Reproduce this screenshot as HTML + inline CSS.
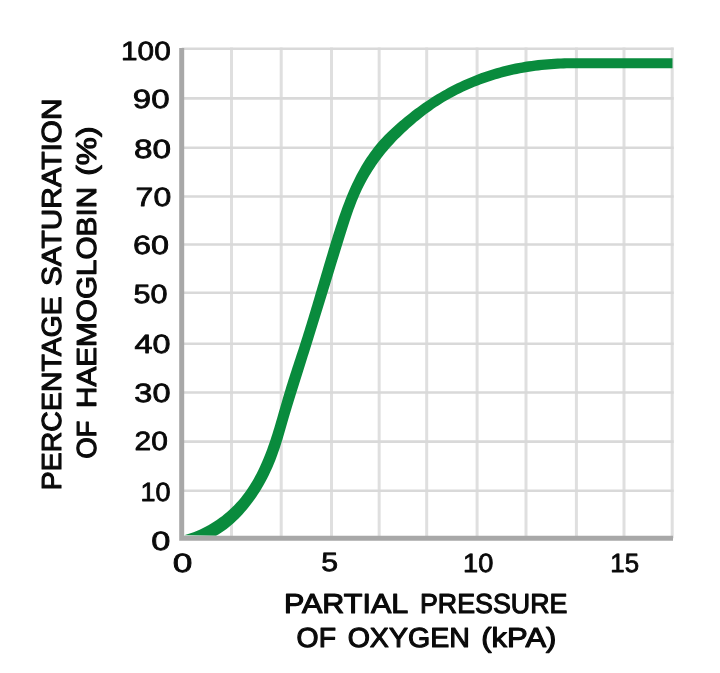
<!DOCTYPE html>
<html lang="en">
<head>
<meta charset="utf-8">
<title>Oxygen dissociation curve of haemoglobin</title>
<style>
html,body{margin:0;padding:0;background:#fff}
body{width:720px;height:673px;overflow:hidden;font-family:"Liberation Sans",sans-serif}
svg{display:block;will-change:transform}
text{font-family:"Liberation Sans",sans-serif;font-weight:normal;text-rendering:geometricPrecision;fill:#0a0a0a;stroke:#0a0a0a;stroke-linejoin:round}
</style>
</head>
<body>
<svg width="720" height="673" viewBox="0 0 720 673">
<title>Oxygen dissociation curve</title>
<desc>Percentage saturation of haemoglobin (%) plotted against partial pressure of oxygen (kPa): a sigmoid curve rising from 0 to a plateau of about 97%.</desc>
<rect width="720" height="673" fill="#fff"/>
<g id="grid" fill="none">
<path d="M231.50,47.40V538.15M281.20,47.40V538.15M331.50,47.40V538.15M379.15,47.40V538.15M426.70,47.40V538.15M477.10,47.40V538.15M526.00,47.40V538.15M576.40,47.40V538.15M624.00,47.40V538.15M672.20,47.40V538.15" stroke="#dfdfdf" stroke-width="3"/>
<path d="M181.7,48.70H673.70M181.7,98.40H673.70M181.7,147.80H673.70M181.7,196.50H673.70M181.7,244.50H673.70M181.7,292.70H673.70M181.7,343.80H673.70M181.7,392.50H673.70M181.7,441.60H673.70M181.7,490.70H673.70" stroke="#d9d9d9" stroke-width="2.6"/>
</g>
<path id="curve" d="M184.20,535.27 L187.35,534.35 L190.47,533.32 L193.56,532.20 L196.61,530.99 L199.62,529.68 L202.59,528.28 L205.52,526.80 L208.41,525.23 L211.24,523.57 L214.03,521.84 L216.77,520.02 L219.45,518.12 L222.08,516.15 L224.64,514.11 L227.15,511.99 L229.59,509.80 L231.97,507.54 L234.29,505.22 L236.54,502.84 L238.72,500.40 L240.84,497.89 L242.88,495.34 L244.85,492.73 L246.75,490.07 L248.59,487.36 L250.35,484.61 L252.06,481.81 L253.70,478.98 L255.28,476.11 L256.80,473.21 L258.27,470.28 L259.69,467.33 L261.05,464.35 L262.37,461.35 L263.64,458.33 L264.86,455.29 L266.05,452.24 L267.20,449.18 L268.31,446.10 L269.39,443.00 L270.44,439.90 L271.46,436.79 L272.46,433.66 L273.44,430.53 L274.40,427.39 L275.34,424.24 L276.27,421.09 L277.19,417.94 L278.10,414.78 L279.01,411.62 L279.92,408.45 L280.82,405.29 L281.73,402.13 L282.65,398.97 L283.58,395.81 L284.52,392.66 L285.47,389.51 L286.44,386.37 L287.42,383.23 L288.41,380.09 L289.41,376.96 L290.42,373.83 L291.44,370.71 L292.46,367.58 L293.48,364.46 L294.50,361.34 L295.53,358.23 L296.56,355.11 L297.58,351.99 L298.60,348.88 L299.61,345.76 L300.61,342.64 L301.61,339.52 L302.60,336.40 L303.58,333.28 L304.56,330.16 L305.53,327.04 L306.49,323.92 L307.45,320.79 L308.40,317.67 L309.35,314.54 L310.30,311.41 L311.24,308.28 L312.18,305.15 L313.11,302.02 L314.04,298.89 L314.97,295.76 L315.90,292.62 L316.83,289.49 L317.76,286.35 L318.68,283.21 L319.61,280.07 L320.54,276.93 L321.47,273.79 L322.40,270.65 L323.33,267.50 L324.27,264.35 L325.20,261.21 L326.15,258.06 L327.09,254.91 L328.04,251.76 L328.99,248.60 L329.95,245.45 L330.91,242.29 L331.88,239.13 L332.86,235.98 L333.85,232.82 L334.85,229.67 L335.86,226.53 L336.89,223.38 L337.93,220.25 L339.00,217.12 L340.08,214.00 L341.18,210.89 L342.30,207.80 L343.45,204.71 L344.63,201.64 L345.83,198.59 L347.06,195.55 L348.33,192.53 L349.62,189.53 L350.95,186.54 L352.32,183.58 L353.72,180.65 L355.16,177.73 L356.64,174.84 L358.17,171.98 L359.73,169.14 L361.35,166.33 L363.01,163.55 L364.72,160.80 L366.47,158.09 L368.29,155.41 L370.15,152.76 L372.07,150.15 L374.04,147.57 L376.08,145.04 L378.17,142.54 L380.33,140.08 L382.54,137.67 L384.81,135.29 L387.14,132.95 L389.50,130.65 L391.92,128.38 L394.36,126.15 L396.85,123.95 L399.36,121.78 L401.90,119.64 L404.45,117.53 L407.03,115.44 L409.62,113.39 L412.23,111.36 L414.86,109.37 L417.51,107.40 L420.17,105.47 L422.86,103.57 L425.57,101.71 L428.30,99.88 L431.05,98.09 L433.82,96.33 L436.61,94.61 L439.42,92.93 L442.26,91.28 L445.11,89.67 L447.98,88.10 L450.87,86.56 L453.78,85.07 L456.71,83.61 L459.65,82.19 L462.61,80.81 L465.59,79.47 L468.59,78.17 L471.60,76.91 L474.63,75.69 L477.67,74.51 L480.73,73.37 L483.80,72.27 L486.89,71.21 L489.99,70.19 L493.10,69.22 L496.23,68.29 L499.37,67.40 L502.53,66.55 L505.69,65.75 L508.87,64.98 L512.06,64.27 L515.26,63.59 L518.47,62.96 L521.69,62.38 L524.93,61.84 L528.17,61.34 L531.42,60.89 L534.67,60.48 L537.94,60.11 L541.21,59.78 L544.49,59.48 L547.77,59.22 L551.06,58.98 L554.35,58.78 L557.65,58.60 L560.95,58.43 L564.25,58.29 L567.55,58.20 L570.85,58.16 L574.15,58.14 L577.45,58.14 L580.74,58.15 L672.50,58.15 L672.50,68.30 L579.22,68.29 L576.10,68.27 L572.98,68.26 L569.86,68.26 L566.74,68.30 L563.63,68.38 L560.51,68.52 L557.40,68.71 L554.29,68.91 L551.17,69.14 L548.06,69.40 L544.95,69.69 L541.84,70.02 L538.73,70.38 L535.62,70.78 L532.52,71.21 L529.42,71.68 L526.32,72.19 L523.23,72.74 L520.14,73.32 L517.06,73.93 L513.98,74.59 L510.91,75.28 L507.86,76.01 L504.81,76.78 L501.77,77.58 L498.74,78.42 L495.72,79.30 L492.72,80.22 L489.73,81.18 L486.75,82.17 L483.78,83.21 L480.83,84.28 L477.90,85.39 L474.99,86.54 L472.09,87.73 L469.21,88.96 L466.35,90.23 L463.51,91.54 L460.68,92.89 L457.89,94.28 L455.11,95.71 L452.35,97.18 L449.62,98.69 L446.91,100.25 L444.23,101.84 L441.57,103.48 L438.94,105.15 L436.34,106.86 L433.75,108.62 L431.20,110.41 L428.67,112.23 L426.16,114.09 L423.67,115.99 L421.21,117.92 L418.78,119.88 L416.37,121.87 L413.98,123.90 L411.61,125.95 L409.26,128.04 L406.94,130.15 L404.64,132.29 L402.37,134.45 L400.12,136.65 L397.91,138.87 L395.72,141.12 L393.56,143.40 L391.44,145.71 L389.35,148.05 L387.31,150.43 L385.30,152.83 L383.33,155.26 L381.41,157.73 L379.53,160.23 L377.70,162.75 L375.91,165.31 L374.16,167.90 L372.46,170.52 L370.81,173.16 L369.20,175.84 L367.64,178.54 L366.12,181.26 L364.65,184.02 L363.23,186.79 L361.85,189.60 L360.52,192.43 L359.24,195.28 L358.01,198.15 L356.82,201.05 L355.67,203.96 L354.56,206.89 L353.48,209.84 L352.43,212.80 L351.41,215.77 L350.41,218.75 L349.42,221.73 L348.45,224.72 L347.49,227.71 L346.54,230.70 L345.59,233.69 L344.65,236.68 L343.72,239.67 L342.79,242.66 L341.87,245.65 L340.95,248.65 L340.04,251.64 L339.12,254.63 L338.21,257.63 L337.31,260.62 L336.40,263.62 L335.49,266.61 L334.58,269.61 L333.67,272.60 L332.76,275.60 L331.84,278.59 L330.92,281.59 L330.01,284.58 L329.09,287.58 L328.16,290.57 L327.24,293.56 L326.32,296.56 L325.39,299.55 L324.47,302.54 L323.54,305.54 L322.61,308.53 L321.68,311.52 L320.76,314.51 L319.83,317.50 L318.90,320.49 L317.97,323.49 L317.04,326.48 L316.12,329.47 L315.19,332.46 L314.26,335.45 L313.34,338.44 L312.41,341.43 L311.48,344.42 L310.55,347.40 L309.62,350.39 L308.69,353.38 L307.76,356.37 L306.83,359.36 L305.90,362.35 L304.96,365.34 L304.02,368.32 L303.09,371.31 L302.15,374.30 L301.20,377.29 L300.26,380.27 L299.32,383.26 L298.38,386.25 L297.43,389.24 L296.50,392.23 L295.56,395.22 L294.63,398.22 L293.70,401.21 L292.78,404.21 L291.86,407.20 L290.96,410.20 L290.06,413.20 L289.16,416.21 L288.28,419.21 L287.41,422.22 L286.55,425.23 L285.69,428.24 L284.83,431.25 L283.96,434.26 L283.08,437.26 L282.19,440.26 L281.26,443.24 L280.32,446.21 L279.34,449.18 L278.32,452.12 L277.28,455.06 L276.19,457.98 L275.07,460.89 L273.90,463.78 L272.69,466.66 L271.43,469.52 L270.13,472.36 L268.77,475.19 L267.37,477.99 L265.92,480.77 L264.41,483.53 L262.86,486.26 L261.26,488.97 L259.61,491.65 L257.91,494.29 L256.16,496.90 L254.36,499.48 L252.52,502.03 L250.62,504.53 L248.68,507.00 L246.69,509.42 L244.66,511.81 L242.57,514.14 L240.44,516.44 L238.26,518.68 L236.03,520.87 L233.74,523.00 L231.41,525.06 L229.01,527.05 L226.55,528.97 L224.02,530.80 L221.43,532.53 L218.77,534.18 L216.04,535.71Z" fill="#098b3d"/>
<path id="axes" d="M181.7,48.0V538.15H673.0" stroke="#a8a8a8" stroke-width="5" fill="none" stroke-linejoin="miter"/>
<g id="tick-labels" font-size="26.4" stroke-width="0.8">
<text transform="translate(121.09,60.46) scale(1.1264,1)">100</text>
<text transform="translate(132.78,108.10) scale(1.2521,1)">90</text>
<text transform="translate(134.09,157.53) scale(1.2619,1)">80</text>
<text transform="translate(135.61,206.09) scale(1.2123,1)">70</text>
<text transform="translate(132.96,254.26) scale(1.2259,1)">60</text>
<text transform="translate(133.39,303.41) scale(1.1580,1)">50</text>
<text transform="translate(134.51,352.53) scale(1.2244,1)">40</text>
<text transform="translate(134.35,402.32) scale(1.2316,1)">30</text>
<text transform="translate(134.59,450.30) scale(1.1340,1)">20</text>
<text transform="translate(140.48,500.68) scale(1.0220,1)">10</text>
<text transform="translate(151.31,550.37) scale(1.3017,1)">0</text>
<text transform="translate(172.64,572.02) scale(1.3375,1)">0</text>
<text transform="translate(321.29,570.64) scale(1.1467,1)">5</text>
<text transform="translate(463.06,571.69) scale(1.0298,1)">10</text>
<text transform="translate(610.25,571.96) scale(0.9806,1)">15</text>
</g>
<g id="axis-titles" font-size="27.5" stroke-width="1.1">
<text transform="translate(283.91,612.7) scale(1.1099,1)">PARTIAL</text>
<text transform="translate(419.93,612.7) scale(0.9750,1)">PRESSURE</text>
<text transform="translate(296.61,646.7) scale(1.0301,1)">OF</text>
<text transform="translate(347.67,646.7) scale(1.0380,1)">OXYGEN</text>
<text transform="translate(481.28,646.7) scale(1.1266,1)">(kPA)</text>
<text transform="translate(60.8,490.19) rotate(-90) scale(1.0352,1)">PERCENTAGE</text>
<text transform="translate(60.8,286.11) rotate(-90) scale(1.0838,1)">SATURATION</text>
<text transform="translate(95.6,458.86) rotate(-90) scale(1.0043,1)">OF</text>
<text transform="translate(95.6,407.94) rotate(-90) scale(1.0794,1)">HAEMOGLOBIN</text>
<text transform="translate(95.6,175.68) rotate(-90) scale(1.1483,1)">(%)</text>
</g>
</svg>
</body>
</html>
